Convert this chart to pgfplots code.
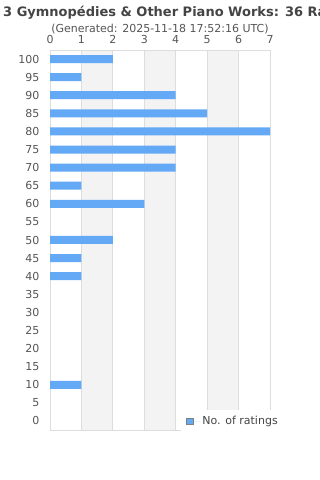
\documentclass[border=0pt]{standalone}
\usepackage{fontspec}
\setmainfont{DejaVu Sans}
\usepackage{pgfplots}
\pgfplotsset{compat=1.18}
\definecolor{barblue}{HTML}{63A9F5}
\definecolor{band}{HTML}{F3F3F3}
\definecolor{gridc}{HTML}{DDDDDD}
\definecolor{titlec}{HTML}{444444}
\definecolor{tickc}{HTML}{555555}
\begin{document}
\begin{tikzpicture}
\node[anchor=base west, inner sep=0pt, text=titlec, font=\fontsize{13bp}{15bp}\selectfont\bfseries] at (3bp,463bp) {3 Gymnopédies \& Other Piano Works: 36 Ratings};
\node[anchor=base, inner sep=0pt, text=tickc, font=\fontsize{11bp}{13bp}\selectfont] at (160bp,447bp) {(Generated: 2025-11-18 17:52:16 UTC)};
\begin{axis}[
  set layers,
  at={(50bp,50bp)}, anchor=south west,
  width=220bp, height=380bp, scale only axis,
  xbar, bar width=8bp,
  xmin=0, xmax=7, ymin=-2.5, ymax=102.5,
  xtick={0,1,...,7}, ytick={0,5,...,100},
  xticklabel pos=upper,
  major tick length=0pt,
  xmajorgrids, grid style={draw=gridc, line width=0.8pt},
  axis line style={draw=gridc, line width=0.8pt},
  tick label style={text=tickc, font=\fontsize{11bp}{13bp}\selectfont},
  /pgf/number format/assume math mode=true,
  xticklabel style={yshift=2.5bp},
  yticklabel style={xshift=-7bp},
  legend style={at={(0.595,0.0526)}, anchor=north west, draw=none, fill=white,
    font=\fontsize{11bp}{13bp}\selectfont, text=titlec, inner xsep=5bp, inner ysep=4bp},
  legend image code/.code={\draw[fill=barblue, draw=gray, line width=0.6pt] (0bp,-3.2bp) rectangle (6.5bp,3.2bp); \path (0bp,0bp) -- (14bp,0bp);},
]
\addplot[fill=barblue, draw=none] coordinates {
(2,100) (1,95) (4,90) (5,85) (7,80) (4,75) (4,70) (1,65) (3,60)
(2,50) (1,45) (1,40) (1,10)
};
\addlegendentry{No. of ratings}
\begin{pgfonlayer}{axis background}
\fill[band] (axis cs:1,-2.5) rectangle (axis cs:2,102.5);
\fill[band] (axis cs:3,-2.5) rectangle (axis cs:4,102.5);
\fill[band] (axis cs:5,-2.5) rectangle (axis cs:6,102.5);
\end{pgfonlayer}
\end{axis}
\pgfresetboundingbox
\path[use as bounding box] (0bp,0bp) rectangle (320bp,480bp);
\end{tikzpicture}
\end{document}
